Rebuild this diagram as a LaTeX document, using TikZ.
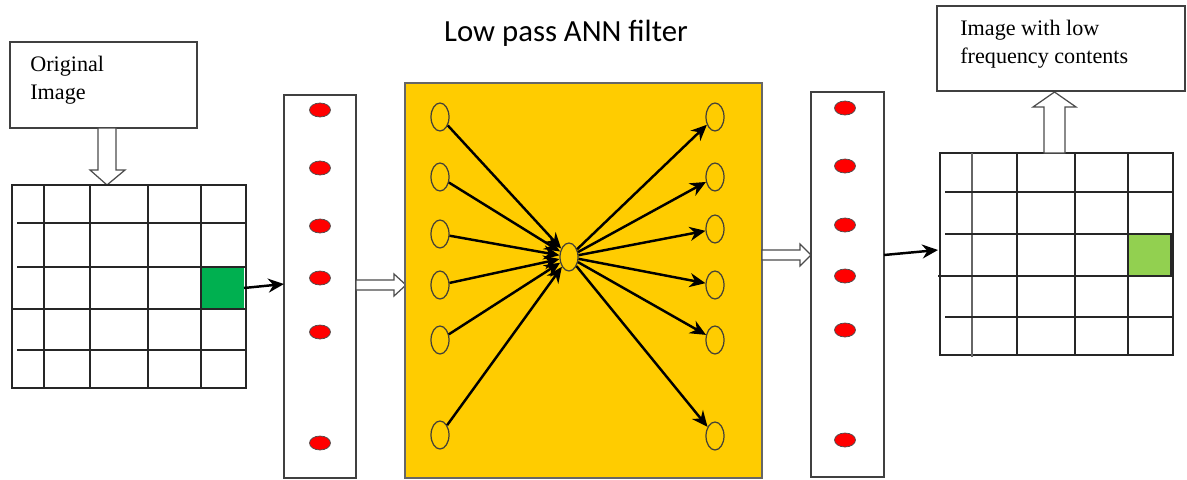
\documentclass[tikz,border=0pt]{standalone}
\usepackage{fontspec}
\setmainfont{Liberation Serif}
\newfontfamily\titlefont{Carlito}
\usetikzlibrary{shapes.geometric,arrows.meta}
\definecolor{filteryellow}{RGB}{255,204,0}
\definecolor{cellgreen}{RGB}{0,176,80}
\definecolor{lightgreen}{RGB}{146,208,80}
\tikzset{
  neuron/.style={ellipse, draw=black!85!yellow, line width=0.7pt, minimum width=0.36cm, minimum height=0.56cm, inner sep=0pt},
  reddot/.style={ellipse, draw=black!70, fill=red, minimum width=0.42cm, minimum height=0.28cm, inner sep=0pt},
  gridline/.style={line width=0.9pt, black!85},
  frame/.style={line width=0.7pt, black!75},
  hollow/.style={draw=black!70, fill=white, line width=0.7pt},
  link/.style={-{Stealth[length=9pt,width=8pt]}, line width=1.4pt},
  boxtext/.style={anchor=north west, align=left, inner sep=0pt, font=\fontsize{12.6}{16}\selectfont},
}
\begin{document}
\begin{tikzpicture}[x=0.02cm,y=-0.02cm]
\useasboundingbox (0,0) rectangle (1187,480);

% title
\node (title) at (566,33) {\titlefont\fontsize{17.5}{20}\selectfont Low pass ANN filter};

% input image box
\draw[frame] (10,42) rectangle (197,128);
\node[boxtext] (orig) at (30,56) {Original\\Image};
\draw[hollow] (98,128) -- (116,128) -- (116,170) -- (125,170) -- (107,185) -- (90,170) -- (98,170) -- cycle;

% left grid
\fill[cellgreen] (201,267) rectangle (244,309);
\draw[gridline] (12,185) rectangle (246,388);
\foreach \x in {44,90,148,201}
  \draw[gridline] (\x,185) -- (\x,388);
\foreach \y in {223,267,350}
  \draw[gridline] (17,\y) -- (246,\y);
\draw[gridline] (11,309) -- (246,309);
\coordinate (gout) at (244,288);

% first column
\draw[frame] (284,95) rectangle (356,478);
\foreach \y [count=\i] in {110,168,226,278,332,443}
  \node[reddot] (a\i) at (320,\y) {};
\coordinate (ain) at (284,284);
\path[link] (gout) edge (ain);
\draw[hollow] (356,280) -- (394,280) -- (394,274) -- (406,285) -- (394,296) -- (394,290) -- (356,290) -- cycle;

% filter
\draw[fill=filteryellow, draw=black!60, line width=0.8pt] (405,83) rectangle (762,478);
\node[neuron] (c) at (569,257) {};
\foreach \y [count=\i] in {117,177,234,285,340,435} {
  \node[neuron] (l\i) at (440,\y) {};
  \path[link] (l\i) edge (c);
}
\foreach \y [count=\i] in {117,177,229,285,340,436} {
  \node[neuron] (r\i) at (715,\y) {};
  \path[link] (c) edge (r\i);
}
\draw[hollow] (762,250) -- (800,250) -- (800,244) -- (811,255) -- (800,266) -- (800,260) -- (762,260) -- cycle;

% second column
\draw[frame] (811,92) rectangle (884,477);
\foreach \y [count=\i] in {108,166,225,276,330,440}
  \node[reddot] (b\i) at (845,\y) {};
\coordinate (bout) at (884,255);

% right grid
\fill[lightgreen] (1128,234) rectangle (1171,276);
\draw[gridline] (1128,234) rectangle (1171,276);
\draw[gridline] (940,153) rectangle (1173,355);
\draw[line width=1.3pt, black!60] (972,153) -- (972,357);
\foreach \x in {1017,1075,1128}
  \draw[gridline] (\x,153) -- (\x,355);
\foreach \y in {192,234,317}
  \draw[gridline] (945,\y) -- (1173,\y);
\draw[gridline] (938,276) -- (1173,276);
\coordinate (gin) at (938,250);
\path[link] (bout) edge (gin);

% output image box
\draw[hollow] (1044,153) -- (1044,107) -- (1033,107) -- (1054.5,92) -- (1076,107) -- (1065,107) -- (1065,153) -- cycle;
\draw[frame] (937,6) rectangle (1185,91);
\node[boxtext] (result) at (960,20) {Image with low\\frequency contents};
\end{tikzpicture}
\end{document}
